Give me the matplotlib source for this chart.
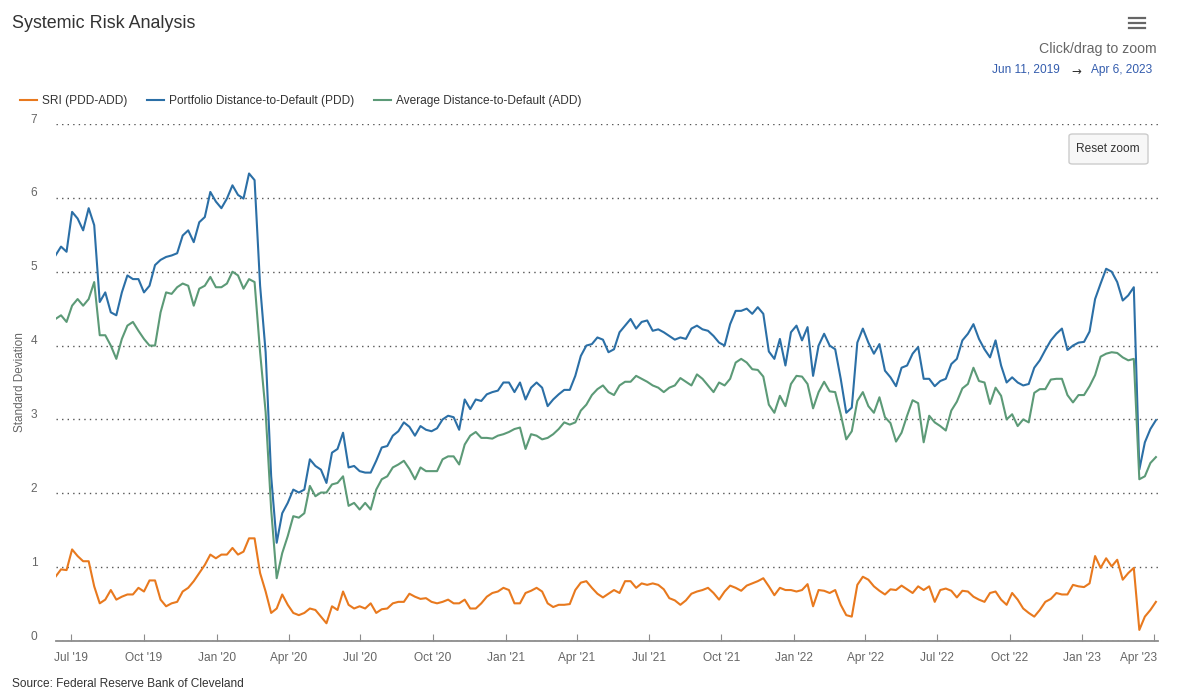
import matplotlib
matplotlib.use('Agg')
import matplotlib.pyplot as plt
import matplotlib.dates as mdates
import matplotlib.transforms as mtransforms
from matplotlib.patches import FancyBboxPatch
from matplotlib.lines import Line2D
import pandas as pd

plt.rcParams['font.family'] = ['Liberation Sans', 'DejaVu Sans']

# weekly readings, Jun 11 2019 -> Apr 4 2023
dates = pd.date_range('2019-06-11', periods=200, freq='7D')

pdd = [5.22, 5.34, 5.27, 5.81, 5.72, 5.56, 5.86, 5.63, 4.59, 4.72,
       4.45, 4.41, 4.72, 4.95, 4.90, 4.90, 4.72, 4.81, 5.09, 5.16,
       5.20, 5.22, 5.25, 5.49, 5.56, 5.40, 5.67, 5.74, 6.08, 5.95,
       5.86, 5.99, 6.17, 6.04, 5.99, 6.33, 6.24, 4.81, 3.91, 2.23,
       1.33, 1.73, 1.87, 2.05, 2.01, 2.05, 2.46, 2.37, 2.32, 2.14,
       2.55, 2.60, 2.82, 2.35, 2.37, 2.30, 2.28, 2.28, 2.44, 2.62,
       2.64, 2.78, 2.84, 2.96, 2.90, 2.78, 2.91, 2.86, 2.84, 2.88,
       3.00, 3.05, 3.03, 2.86, 3.27, 3.14, 3.27, 3.25, 3.34, 3.37,
       3.39, 3.50, 3.50, 3.37, 3.50, 3.27, 3.43, 3.50, 3.43, 3.18,
       3.27, 3.34, 3.40, 3.40, 3.59, 3.86, 4.00, 4.02, 4.11, 4.08,
       3.91, 3.95, 4.18, 4.27, 4.36, 4.23, 4.32, 4.34, 4.20, 4.22,
       4.18, 4.13, 4.08, 4.11, 4.09, 4.23, 4.27, 4.22, 4.20, 4.13,
       4.04, 4.00, 4.29, 4.47, 4.47, 4.50, 4.43, 4.52, 4.43, 3.92,
       3.82, 4.09, 3.73, 4.18, 4.27, 4.07, 4.25, 3.59, 4.00, 4.16,
       4.00, 3.95, 3.55, 3.09, 3.16, 4.04, 4.23, 4.04, 3.89, 4.02,
       3.66, 3.57, 3.45, 3.70, 3.73, 3.89, 3.98, 3.55, 3.55, 3.45,
       3.52, 3.55, 3.75, 3.82, 4.07, 4.16, 4.29, 4.09, 3.95, 3.84,
       4.07, 3.73, 3.50, 3.57, 3.50, 3.46, 3.48, 3.70, 3.80, 3.94,
       4.07, 4.16, 4.23, 3.94, 4.00, 4.04, 4.05, 4.19, 4.63, 4.84,
       5.04, 5.00, 4.86, 4.61, 4.68, 4.79, 2.32, 2.69, 2.87, 2.99]

add = [4.36, 4.41, 4.32, 4.54, 4.63, 4.54, 4.63, 4.86, 4.14, 4.14,
       4.00, 3.82, 4.09, 4.27, 4.32, 4.20, 4.09, 4.00, 4.00, 4.45,
       4.72, 4.70, 4.79, 4.84, 4.81, 4.54, 4.77, 4.81, 4.93, 4.79,
       4.79, 4.84, 5.00, 4.95, 4.77, 4.90, 4.86, 3.91, 3.10, 1.78,
       0.85, 1.19, 1.42, 1.69, 1.67, 1.73, 2.10, 1.96, 2.01, 2.01,
       2.12, 2.14, 2.23, 1.83, 1.87, 1.78, 1.87, 1.78, 2.05, 2.19,
       2.23, 2.35, 2.39, 2.44, 2.33, 2.19, 2.35, 2.30, 2.30, 2.30,
       2.46, 2.50, 2.50, 2.39, 2.66, 2.78, 2.83, 2.75, 2.75, 2.74,
       2.78, 2.80, 2.83, 2.87, 2.89, 2.60, 2.80, 2.78, 2.73, 2.75,
       2.80, 2.87, 2.96, 2.93, 2.96, 3.12, 3.20, 3.33, 3.41, 3.46,
       3.37, 3.33, 3.46, 3.51, 3.51, 3.59, 3.55, 3.51, 3.46, 3.43,
       3.37, 3.43, 3.46, 3.56, 3.51, 3.46, 3.61, 3.55, 3.46, 3.37,
       3.50, 3.46, 3.55, 3.77, 3.82, 3.77, 3.68, 3.67, 3.58, 3.20,
       3.09, 3.32, 3.18, 3.48, 3.59, 3.58, 3.48, 3.15, 3.37, 3.51,
       3.38, 3.37, 3.07, 2.73, 2.84, 3.25, 3.37, 3.18, 3.09, 3.30,
       3.03, 2.95, 2.70, 2.82, 3.05, 3.26, 3.22, 2.69, 3.05, 2.96,
       2.91, 2.85, 3.12, 3.24, 3.42, 3.48, 3.70, 3.52, 3.50, 3.21,
       3.43, 3.32, 3.00, 3.07, 2.91, 3.00, 2.96, 3.36, 3.41, 3.41,
       3.54, 3.55, 3.55, 3.33, 3.23, 3.33, 3.33, 3.45, 3.60, 3.85,
       3.89, 3.91, 3.90, 3.84, 3.80, 3.82, 2.19, 2.23, 2.41, 2.49]

sri = [0.87, 0.97, 0.96, 1.24, 1.15, 1.08, 1.08, 0.74, 0.51, 0.56,
       0.69, 0.56, 0.60, 0.63, 0.63, 0.72, 0.67, 0.82, 0.82, 0.56,
       0.47, 0.51, 0.53, 0.67, 0.72, 0.81, 0.92, 1.03, 1.17, 1.12,
       1.17, 1.17, 1.26, 1.17, 1.21, 1.39, 1.39, 0.92, 0.67, 0.38,
       0.44, 0.63, 0.49, 0.38, 0.35, 0.38, 0.44, 0.42, 0.33, 0.24,
       0.47, 0.42, 0.67, 0.49, 0.44, 0.47, 0.44, 0.51, 0.38, 0.43,
       0.44, 0.51, 0.53, 0.53, 0.64, 0.60, 0.57, 0.58, 0.53, 0.51,
       0.53, 0.56, 0.51, 0.51, 0.56, 0.44, 0.44, 0.51, 0.60, 0.65,
       0.67, 0.72, 0.69, 0.51, 0.51, 0.65, 0.68, 0.72, 0.67, 0.51,
       0.46, 0.49, 0.49, 0.50, 0.69, 0.79, 0.81, 0.72, 0.64, 0.59,
       0.64, 0.69, 0.65, 0.81, 0.81, 0.72, 0.78, 0.76, 0.78, 0.76,
       0.70, 0.58, 0.55, 0.49, 0.55, 0.64, 0.67, 0.69, 0.72, 0.65,
       0.56, 0.67, 0.75, 0.72, 0.68, 0.75, 0.78, 0.81, 0.85, 0.74,
       0.62, 0.72, 0.69, 0.69, 0.67, 0.69, 0.77, 0.47, 0.69, 0.68,
       0.65, 0.69, 0.49, 0.35, 0.33, 0.76, 0.87, 0.83, 0.74, 0.68,
       0.63, 0.70, 0.69, 0.75, 0.70, 0.65, 0.74, 0.69, 0.74, 0.53,
       0.69, 0.71, 0.68, 0.59, 0.68, 0.67, 0.60, 0.56, 0.53, 0.65,
       0.67, 0.56, 0.49, 0.65, 0.56, 0.44, 0.38, 0.33, 0.42, 0.53,
       0.57, 0.65, 0.63, 0.63, 0.76, 0.74, 0.73, 0.78, 1.15, 0.99,
       1.12, 1.01, 1.10, 0.83, 0.92, 0.99, 0.15, 0.33, 0.42, 0.53]

W, H = 1191, 700


def fx(x):
    return x / W


def fy(y):
    return 1 - y / H


fig = plt.figure(figsize=(W / 100, H / 100), dpi=100)
ax = fig.add_axes([fx(55.5), fy(641), (1157.5 - 55.5) / W, (641 - 124) / H])

l1, = ax.plot(dates, sri, color='#e8791e', lw=1.5, zorder=3, label='SRI (PDD-ADD)')
l2, = ax.plot(dates, pdd, color='#2b6fa6', lw=1.5, zorder=4,
              label='Portfolio Distance-to-Default (PDD)')
l3, = ax.plot(dates, add, color='#5c9a77', lw=1.5, zorder=5,
              label='Average Distance-to-Default (ADD)')

ax.set_xlim(pd.Timestamp('2019-06-11'), pd.Timestamp('2023-04-06'))
ax.set_ylim(0, 7)
ax.set_yticks(range(0, 8))
ax.yaxis.grid(True, linestyle=(0, (1, 3)), color='#555555', lw=1)
ax.set_axisbelow(True)

for s in ['top', 'right', 'left']:
    ax.spines[s].set_visible(False)
ax.spines['bottom'].set_color('#8c8c8c')
ax.spines['bottom'].set_linewidth(1.3)

ax.xaxis.set_major_locator(mdates.MonthLocator(bymonth=[1, 4, 7, 10]))
ax.xaxis.set_major_formatter(mdates.DateFormatter("%b '%y"))
ax.tick_params(axis='x', direction='in', length=5, color='#8c8c8c',
               labelsize=8.6, labelcolor='#666666', pad=8)
ax.tick_params(axis='y', length=0, labelsize=8.6, labelcolor='#666666', pad=13)
off = mtransforms.ScaledTranslation(0, 0.06, fig.dpi_scale_trans)
for lab in ax.get_yticklabels():
    lab.set_transform(lab.get_transform() + off)

# last x label is kept inside the plot, like the original
fig.canvas.draw()
xlabs = ax.get_xticklabels()
last = xlabs[-1]
last.set_horizontalalignment('right')
last.set_transform(last.get_transform()
                   + mtransforms.ScaledTranslation(0.04, 0, fig.dpi_scale_trans))

fig.text(fx(20), fy(382), 'Standard Deviation', rotation=90, ha='center',
         va='center', fontsize=8.5, color='#666666')

# header
fig.text(fx(11.5), fy(24), 'Systemic Risk Analysis', fontsize=12.9,
         color='#333333', va='center', ha='left')
for yy in [18, 23, 28]:
    fig.add_artist(Line2D([fx(1129), fx(1145)], [fy(yy), fy(yy)],
                          color='#666666', lw=1.6))
fig.text(fx(1157), fy(49), 'Click/drag to zoom', fontsize=10.2,
         color='#666666', ha='right', va='center')
fig.text(fx(1060), fy(70), 'Jun 11, 2019', fontsize=8.6, color='#335cad',
         ha='right', va='center')
fig.text(fx(1076), fy(71), '\u2192', fontsize=8.5, color='#333333',
         ha='center', va='center', family='DejaVu Sans')
fig.text(fx(1152), fy(70), 'Apr 6, 2023', fontsize=8.6, color='#335cad',
         ha='right', va='center')

fig.legend(handles=[l1, l2, l3], loc='center left',
           bbox_to_anchor=(fx(15), fy(101)), ncol=3, frameon=False,
           fontsize=8.6, handlelength=1.4, handletextpad=0.45,
           columnspacing=1.65, labelcolor='#333333', borderaxespad=0)

# reset zoom button
btn = FancyBboxPatch((fx(1069), fy(164)), (1148 - 1069) / W, 30 / H,
                     boxstyle='round,pad=0,rounding_size=0.003',
                     transform=fig.transFigure, facecolor='#f7f7f7',
                     edgecolor='#cccccc', lw=1)
fig.add_artist(btn)
fig.text(fx(1108), fy(149), 'Reset zoom', fontsize=8.6, color='#333333',
         ha='center', va='center')

fig.text(fx(11.5), fy(684), 'Source: Federal Reserve Bank of Cleveland',
         fontsize=8.6, color='#333333', ha='left', va='center')

fig.savefig('out.png', dpi=100)
